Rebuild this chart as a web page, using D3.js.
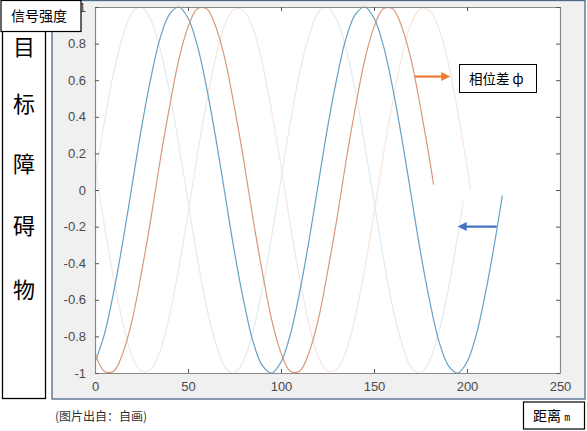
<!DOCTYPE html>
<html><head><meta charset="utf-8">
<script src="https://cdn.jsdelivr.net/npm/d3@7"></script>
<style>
html,body{margin:0;padding:0;background:#fff;}
svg{display:block;}
</style></head>
<body>
<svg id="c" width="587" height="431"></svg>
<script>
// ---- data ----
const xTicks = [0, 50, 100, 150, 200, 250];
const yTicks = [-1, -0.8, -0.6, -0.4, -0.2, 0, 0.2, 0.4, 0.6, 0.8, 1];
const yTickLabels = ["-1","-0.8","-0.6","-0.4","-0.2","0","0.2","0.4","0.6","0.8","1"];

// faint blue (earlier echo)
const faintBlueX = [0,5,10,15,20,25,30,35,40,45,50,55,60,65,70,75,80,85,90,95,100,105,110,115,120,125,130,135,140,145,150,155,160,165,170,175,180,185,190,195,198];
const faintBlueY = [0.06,0.37,0.64,0.84,0.97,1.00,0.93,0.77,0.54,0.25,-0.06,-0.37,-0.64,-0.84,-0.97,-1.00,-0.93,-0.77,-0.54,-0.25,0.06,0.37,0.64,0.84,0.97,1.00,0.93,0.77,0.54,0.25,-0.06,-0.37,-0.64,-0.84,-0.97,-1.00,-0.93,-0.77,-0.54,-0.25,-0.06];
// strong blue
const blueX = [0,5,10,15,20,25,30,35,40,45,50,55,60,65,70,75,80,85,90,95,100,105,110,115,120,125,130,135,140,145,150,155,160,165,170,175,180,185,190,195,200,205,210,215,219];
const blueY = [-0.94,-0.79,-0.56,-0.28,0.03,0.34,0.61,0.83,0.96,1.00,0.94,0.79,0.56,0.28,-0.03,-0.34,-0.61,-0.83,-0.96,-1.00,-0.94,-0.79,-0.56,-0.28,0.03,0.34,0.61,0.83,0.96,1.00,0.94,0.79,0.56,0.28,-0.03,-0.34,-0.61,-0.83,-0.96,-1.00,-0.94,-0.79,-0.56,-0.28,-0.03];
// strong orange
const orangeX = [0,5,10,15,20,25,30,35,40,45,50,55,60,65,70,75,80,85,90,95,100,105,110,115,120,125,130,135,140,145,150,155,160,165,170,175,180,182];
const orangeY = [-0.89,-0.99,-0.99,-0.89,-0.71,-0.45,-0.16,0.16,0.45,0.71,0.89,0.99,0.99,0.89,0.71,0.45,0.16,-0.16,-0.45,-0.71,-0.89,-0.99,-0.99,-0.89,-0.71,-0.45,-0.16,0.16,0.45,0.71,0.89,0.99,0.99,0.89,0.71,0.45,0.16,0.03];
// faint orange (later echo)
const faintOrangeX = [0,5,10,15,20,25,30,35,40,45,50,55,60,65,70,75,80,85,90,95,100,105,110,115,120,125,130,135,140,145,150,155,160,165,170,175,180,185,190,195,200,202];
const faintOrangeY = [0.13,-0.19,-0.48,-0.73,-0.91,-0.99,-0.98,-0.88,-0.69,-0.43,-0.13,0.19,0.48,0.73,0.91,0.99,0.98,0.88,0.69,0.43,0.13,-0.19,-0.48,-0.73,-0.91,-0.99,-0.98,-0.88,-0.69,-0.43,-0.13,0.19,0.48,0.73,0.91,0.99,0.98,0.88,0.69,0.43,0.13,0.00];

// annotation arrows in data coordinates
const phaseArrow = {x1: 172, x2: 191, y: 0.62};
const backArrow = {x1: 216, x2: 195, y: -0.2};

const verticalLabel = ["目","标","障","碍","物"];

// ---- layout ----
const svg = d3.select("#c");
const L = 95, R = 560, T = 7, B = 373;
const x = d3.scaleLinear().domain([0, 250]).range([L, R]);
const y = d3.scaleLinear().domain([-1, 1]).range([B, T]);

// figure frame
svg.append("rect").attr("x", 52).attr("y", 0.5).attr("width", 533).attr("height", 398.5)
  .attr("fill", "#f0f0f0").attr("stroke", "#4b6788").attr("stroke-width", 1.3);
// plot background
svg.append("rect").attr("x", L).attr("y", T).attr("width", R - L).attr("height", B - T)
  .attr("fill", "#ffffff");

const defs = svg.append("defs");
defs.append("clipPath").attr("id", "clip").append("rect")
  .attr("x", L).attr("y", T - 2).attr("width", R - L).attr("height", B - T + 4);

const line = d3.line().x(d => x(d[0])).y(d => y(d[1])).curve(d3.curveCatmullRom.alpha(0.5));
const series = [
  {xs: faintBlueX, ys: faintBlueY, color: "#e2edf4", w: 1.3},
  {xs: faintOrangeX, ys: faintOrangeY, color: "#f8e8e0", w: 1.3},
  {xs: blueX, ys: blueY, color: "#64a0c6", w: 1.2},
  {xs: orangeX, ys: orangeY, color: "#d89878", w: 1.2}
];
const g = svg.append("g").attr("clip-path", "url(#clip)");
series.forEach(s => {
  g.append("path").datum(s.xs.map((v, i) => [v, s.ys[i]]))
    .attr("d", line).attr("fill", "none").attr("stroke", s.color).attr("stroke-width", s.w);
});

// axes (MATLAB style box, ticks inward)
const axColor = "#8a8a8a";
const xb = svg.append("g").attr("transform", `translate(0,${B})`)
  .call(d3.axisBottom(x).tickValues(xTicks).tickSizeInner(-4).tickSizeOuter(0).tickPadding(9));
const xt = svg.append("g").attr("transform", `translate(0,${T})`)
  .call(d3.axisTop(x).tickValues(xTicks).tickSizeInner(-4).tickSizeOuter(0).tickFormat(""));
const yl = svg.append("g").attr("transform", `translate(${L},0)`)
  .call(d3.axisLeft(y).tickValues(yTicks).tickSizeInner(-4).tickSizeOuter(0).tickPadding(9)
    .tickFormat((d, i) => yTickLabels[i]));
const yr = svg.append("g").attr("transform", `translate(${R},0)`)
  .call(d3.axisRight(y).tickValues(yTicks).tickSizeInner(-4).tickSizeOuter(0).tickFormat(""));
[xb, xt, yl, yr].forEach(a => {
  a.select(".domain").attr("stroke", axColor).attr("stroke-width", 1.2);
  a.selectAll(".tick line").attr("stroke", "#555");
  a.selectAll(".tick text").attr("fill", "#4a4a4a")
    .style("font-family", "'Liberation Sans', Arial, sans-serif").style("font-size", "13px");
});

// arrows
function arrow(a, color) {
  const x1 = x(a.x1), x2 = x(a.x2), yy = y(a.y);
  const dir = Math.sign(x2 - x1);
  svg.append("line").attr("x1", x1).attr("y1", yy).attr("x2", x2 - dir * 7).attr("y2", yy)
    .attr("stroke", color).attr("stroke-width", 2.2);
  svg.append("path").attr("d", `M${x2},${yy} L${x2 - dir * 9},${yy - 4.5} L${x2 - dir * 9},${yy + 4.5} Z`)
    .attr("fill", color);
}
arrow(phaseArrow, "#ed7d31");
arrow(backArrow, "#4472c4");

// annotation box: phase difference
const cjk = "'Noto Sans CJK SC', 'Noto Sans', sans-serif";
svg.append("rect").attr("x", 459.5).attr("y", 64.5).attr("width", 77).attr("height", 28)
  .attr("fill", "#fff").attr("stroke", "#000").attr("stroke-width", 1);
svg.append("text").attr("x", 469).attr("y", 84).text("相位差 ф")
  .style("font-family", cjk).style("font-size", "13.5px").attr("fill", "#000");

// left vertical label box
svg.append("rect").attr("x", 2.5).attr("y", 0.5).attr("width", 43).attr("height", 398)
  .attr("fill", "#fff").attr("stroke", "#000").attr("stroke-width", 1.3);
const vCenters = [45, 102, 162, 224, 288];
verticalLabel.forEach((ch, i) => {
  svg.append("text").attr("x", 24).attr("y", vCenters[i]).attr("text-anchor", "middle")
    .attr("dominant-baseline", "central").text(ch)
    .style("font-family", cjk).style("font-size", "22px").attr("fill", "#000");
});

// top-left label box
svg.append("rect").attr("x", 1).attr("y", 0.5).attr("width", 80).attr("height", 31)
  .attr("fill", "#fff").attr("stroke", "#000").attr("stroke-width", 1.2);
svg.append("text").attr("x", 11).attr("y", 21).text("信号强度")
  .style("font-family", cjk).style("font-size", "14px").attr("fill", "#000");

// bottom note
svg.append("text").attr("x", 55).attr("y", 421).text("(图片出自：自画)")
  .style("font-family", cjk).style("font-size", "12px").attr("fill", "#333");

// bottom-right box: distance
svg.append("rect").attr("x", 523.5).attr("y", 402).attr("width", 61).attr("height", 27)
  .attr("fill", "#fff").attr("stroke", "#000").attr("stroke-width", 1.2);
const dt = svg.append("text").attr("x", 533).attr("y", 421)
  .style("font-family", cjk).style("font-size", "14px").attr("fill", "#000");
dt.append("tspan").text("距离 ");
dt.append("tspan").text("m").style("font-family", "'DejaVu Sans Mono', monospace").style("font-size", "10px");
</script>
</body></html>
